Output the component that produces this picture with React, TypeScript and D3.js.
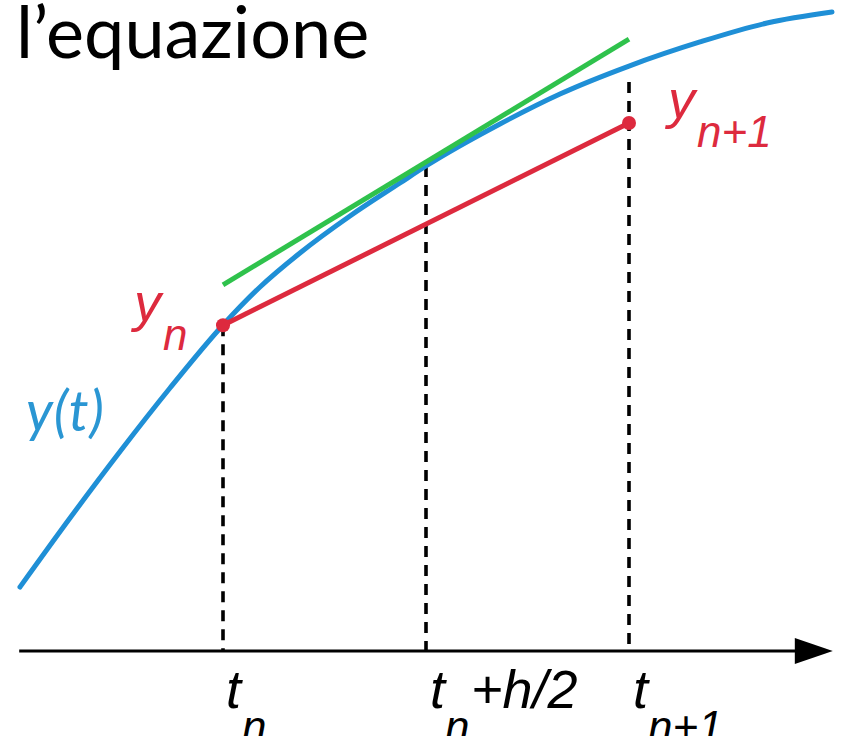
import React from 'react';
import * as d3 from 'd3';

// y(t) curve sample points
const curveT = [0, 0.616, 1.232, 1.847, 2.5, 2.956, 3.448, 4.064, 4.68, 5.0, 5.911, 6.65, 7.5, 8.374, 9.2, 10.0];
const curveY = [1.0, 2.078, 3.117, 4.109, 5.094, 5.688, 6.219, 6.797, 7.3125, 7.578, 8.234, 8.703, 9.14, 9.516, 9.8125, 9.984];
// midpoint step (red) y_n -> y_{n+1}
const stepT = [2.5, 7.5];
const stepY = [5.09, 8.25];
// tangent at t_n + h/2 (green)
const tangentT = [2.5, 7.5];
const tangentY = [5.72, 9.56];
// vertical guides
const guideT = [2.5, 5.0, 7.5];
const guideTop = [5.09, 7.58, 8.89];
const title = 'l\u2019equazione';

const W = 841;
const H = 736;

export default function App() {
  const x = d3.scaleLinear().domain([0, 10]).range([20, 832]);
  const y = d3.scaleLinear().domain([0, 10]).range([651, 11]);

  const curvePts: [number, number][] = curveT.map((t, i) => [t, curveY[i]]);
  const line = d3
    .line<[number, number]>()
    .x((d) => x(d[0]))
    .y((d) => y(d[1]))
    .curve(d3.curveMonotoneX);
  const straight = d3
    .line<[number, number]>()
    .x((d) => x(d[0]))
    .y((d) => y(d[1]));

  const axisY = y(0);
  const axisStart = x(-0.01);
  const axisEnd = x(10.01);

  const blue = '#1f8fd6';
  const red = '#dd2a3e';
  const green = '#2fc24c';
  const labelBlue = '#2a96d3';
  const helv = '"Liberation Sans", Arial, sans-serif';

  return (
    <svg
      width={W}
      height={H}
      viewBox={`0 0 ${W} ${H}`}
      style={{ position: 'absolute', left: 0, top: 0, background: '#fff' }}
    >
      <rect width={W} height={H} fill="#fff" />
      <text x={16} y={58} fontFamily="Lato, sans-serif" fontSize={72} fill="#000">
        {title}
      </text>

      {/* axis */}
      <line x1={axisStart} x2={axisEnd - 34} y1={axisY} y2={axisY} stroke="#000" strokeWidth={3.2} />
      <polygon
        points={`${axisEnd - 38},${axisY - 13} ${axisEnd},${axisY} ${axisEnd - 38},${axisY + 13}`}
        fill="#000"
      />

      {/* dashed guides */}
      {guideT.map((t, i) => (
        <line
          key={i}
          x1={x(t)}
          x2={x(t)}
          y1={y(guideTop[i])}
          y2={axisY}
          stroke="#000"
          strokeWidth={3.6}
          strokeDasharray="11 8"
        />
      ))}

      {/* y(t) */}
      <path d={line(curvePts) || ''} fill="none" stroke={blue} strokeWidth={5} strokeLinecap="round" />

      {/* tangent */}
      <path
        d={straight(tangentT.map((t, i) => [t, tangentY[i]]) as [number, number][]) || ''}
        fill="none"
        stroke={green}
        strokeWidth={5}
      />

      {/* step */}
      <path
        d={straight(stepT.map((t, i) => [t, stepY[i]]) as [number, number][]) || ''}
        fill="none"
        stroke={red}
        strokeWidth={5}
      />
      {stepT.map((t, i) => (
        <circle key={i} cx={x(t)} cy={y(stepY[i])} r={7} fill={red} />
      ))}

      {/* labels */}
      <text x={26} y={431} fontFamily="Lato, sans-serif" fontStyle="italic" fontSize={56} fill={labelBlue} letterSpacing={1}>
        y(t)
      </text>

      <g fontFamily={helv} fontStyle="italic" fill={red}>
        <text x={x(stepT[0]) - 89} y={321} fontSize={54}>y</text>
        <text x={x(stepT[0]) - 60} y={350} fontSize={44}>n</text>
        <text x={x(stepT[1]) + 39} y={118} fontSize={54}>y</text>
        <text x={x(stepT[1]) + 68} y={147} fontSize={44}>n+1</text>
      </g>

      <g fontFamily={helv} fontStyle="italic" fill="#000">
        <text x={x(guideT[0]) + 3} y={708} fontSize={54}>t</text>
        <text x={x(guideT[0]) + 19} y={742} fontSize={44}>n</text>

        <text x={x(guideT[1]) + 4} y={708} fontSize={54}>t</text>
        <text x={x(guideT[1]) + 19} y={742} fontSize={44}>n</text>
        <text x={x(guideT[1]) + 45} y={708} fontSize={54}>+h/2</text>

        <text x={x(guideT[2]) + 4} y={708} fontSize={54}>t</text>
        <text x={x(guideT[2]) + 19} y={742} fontSize={44}>n+1</text>
      </g>
    </svg>
  );
}
